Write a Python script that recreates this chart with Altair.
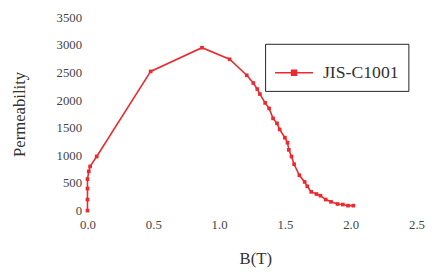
import altair as alt
import pandas as pd

b_vals = [0.00, 0.00, 0.00, 0.00, 0.01, 0.02, 0.07, 0.48, 0.87, 1.08, 1.21, 1.26, 1.29, 1.31,
          1.35, 1.38, 1.41, 1.44, 1.46, 1.50, 1.52, 1.53, 1.55, 1.57, 1.61, 1.65, 1.67, 1.70,
          1.74, 1.77, 1.81, 1.85, 1.90, 1.94, 1.98, 2.02]
mu_vals = [0, 200, 400, 570, 710, 800, 980, 2520, 2950, 2740, 2450, 2310, 2200, 2110,
           1950, 1850, 1670, 1580, 1470, 1320, 1230, 1100, 980, 840, 640, 520, 440, 340,
           300, 270, 200, 160, 120, 110, 90, 90]
series = "JIS-C1001"

df = pd.DataFrame({"B": b_vals, "mu": mu_vals, "series": [series] * len(b_vals)})
df["order"] = range(len(df))

RED = "#ec2a2e"
FONT = "Liberation Serif"

color = alt.Color(
    "series:N",
    scale=alt.Scale(range=[RED]),
    legend=alt.Legend(
        title=None,
        orient="none",
        legendX=181,
        legendY=27,
        strokeColor="#222",
        padding=9,
        symbolType="M-1,0H1M-0.13,-0.13H0.13V0.13H-0.13Z",
        symbolSize=1500,
        symbolStrokeWidth=1.5,
        symbolFillColor=RED,
        labelFont=FONT,
        labelFontSize=18,
        labelColor="#333",
        labelOffset=9,
    ),
)

x = alt.X("B:Q", scale=alt.Scale(domain=[0, 2.55], nice=False, zero=False),
          axis=alt.Axis(title="B(T)", values=[0, 0.5, 1.0, 1.5, 2.0, 2.5], format=".1f",
                        labelFlush=False, labelPadding=8, titlePadding=20))
y = alt.Y("mu:Q", scale=alt.Scale(domain=[0, 3500], nice=False),
          axis=alt.Axis(title="Permeability", values=list(range(0, 3501, 500)), format="d",
                        labelPadding=6, titlePadding=28))

line = alt.Chart(df).mark_line(strokeWidth=1.6).encode(x=x, y=y, color=color, order="order:Q")
pts = alt.Chart(df).mark_point(shape="square", filled=True, size=14, opacity=1).encode(
    x=x, y=y, color=alt.Color("series:N", scale=alt.Scale(range=[RED]), legend=None))

chart = alt.layer(line, pts).properties(
    width=342, height=197,
    autosize=alt.AutoSizeParams(type="none"),
    padding={"left": 81, "top": 7, "right": 5, "bottom": 56},
    background="white",
).configure_view(stroke=None).configure_axis(
    domain=False, ticks=False, grid=False,
    labelFont=FONT, labelFontSize=13, labelColor="#444",
    titleFont=FONT, titleFontSize=17, titleFontWeight="normal", titleColor="#333",
)

chart.save("out.html", embed_options={"renderer": "svg", "actions": False})
